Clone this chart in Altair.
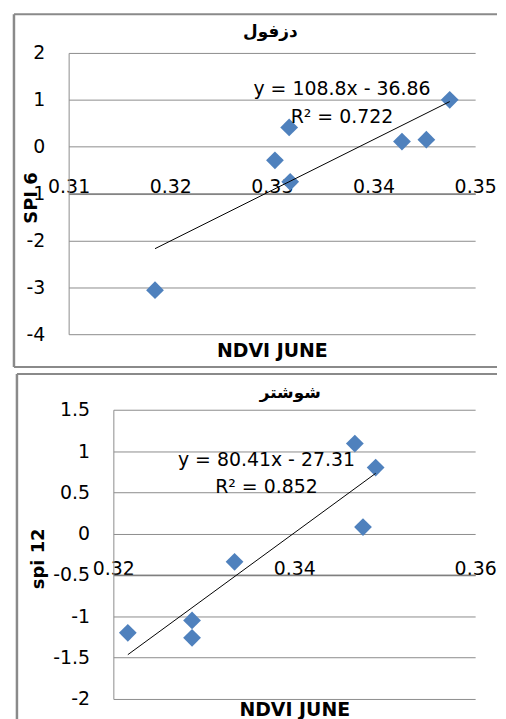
import altair as alt
import pandas as pd

# ---- data ----
dez_ndvi = [0.3185, 0.3303, 0.3317, 0.3318, 0.3428, 0.3452, 0.3475]
dez_spi6 = [-3.06, -0.29, 0.41, -0.75, 0.11, 0.15, 1.00]

shu_ndvi = [0.3216, 0.3287, 0.3287, 0.3334, 0.3467, 0.3476, 0.3490]
shu_spi12 = [-1.20, -1.05, -1.26, -0.34, 1.09, 0.08, 0.80]

titles = ["دزفول", "شوشتر"]
y_titles = ["SPI 6", "spi 12"]
x_title = "NDVI JUNE"
dez_eq = ["y = 108.8x - 36.86", "R² = 0.722"]
shu_eq = ["y = 80.41x - 27.31", "R² = 0.852"]
dez_xticks = [0.31, 0.32, 0.33, 0.34, 0.35]
dez_yticks = [2, 1, 0, -1, -2, -3, -4]
shu_xticks = [0.32, 0.34, 0.36]
shu_yticks = [1.5, 1, 0.5, 0, -0.5, -1, -1.5, -2]
dez_cross = -1
shu_cross = -0.5

FONT = "DejaVu Sans"
GRID = "#8c8c8c"
FRAME = "#8a8a8a"
BLUE = "#4F81BD"
W = 409  # common view width of both panels


def panel(xs, ys, xticks, yticks, xcross, title, ytitle, eq, H, x0,
          frame, eqpos, ytitle_x, xtitle_y, title_pos, bottom_line):
    df = pd.DataFrame({"x": xs, "y": ys})
    one = pd.DataFrame({"a": [0]})
    ydom = [min(yticks), max(yticks)]
    cross_px = (ydom[1] - xcross) / (ydom[1] - ydom[0]) * H
    xscale = alt.Scale(domain=[min(xticks), max(xticks)], nice=False,
                       zero=False, range=[x0, W])
    yscale = alt.Scale(domain=ydom, nice=False, zero=False)

    xaxis = alt.Axis(
        values=xticks, title=x_title, orient="bottom", offset=-(H - cross_px),
        grid=False, ticks=False, tickSize=0, labelPadding=-1,
        labelBaseline="alphabetic", labelFont=FONT, labelFontSize=19,
        labelColor="black", labelExpr="'' + datum.value", labelFlush=False,
        labelOverlap=False, domainColor="#7f7f7f", domainWidth=1.5,
        titleFont=FONT, titleFontSize=19, titleFontWeight="bold",
        titleColor="black", titleY=xtitle_y - cross_px, titleBaseline="middle",
    )
    yaxis = alt.Axis(
        values=yticks, title=ytitle, grid=True, gridColor=GRID, gridWidth=1,
        ticks=False, tickSize=0, labelPadding=24, labelFont=FONT,
        labelFontSize=19, labelColor="black", labelExpr="'' + datum.value",
        labelOverlap=False, labelFlush=False, domainColor=GRID, domainWidth=1,
        titleFont=FONT, titleFontSize=18, titleFontWeight="bold",
        titleColor="black", titleX=ytitle_x, titleY=H / 2 + 4,
        titleBaseline="middle", titleAlign="center", titleAngle=270,
        offset=-x0,
    )

    fx1, fx2, fy1, fy2 = frame
    frame_layers = [
        alt.Chart(one).mark_rule(color=FRAME, strokeWidth=2).encode(
            x=alt.value(fx1), x2=alt.value(fx2), y=alt.value(fy1)),
        alt.Chart(one).mark_rule(color=FRAME, strokeWidth=2.5).encode(
            x=alt.value(fx1), y=alt.value(fy1), y2=alt.value(fy2)),
    ]
    if bottom_line:
        frame_layers.append(
            alt.Chart(one).mark_rule(color=FRAME, strokeWidth=2).encode(
                x=alt.value(fx1), x2=alt.value(fx2), y=alt.value(fy2)))

    pts = alt.Chart(df).mark_point(
        shape="diamond", filled=True, size=320, color=BLUE, opacity=1
    ).encode(
        x=alt.X("x:Q", scale=xscale, axis=xaxis),
        y=alt.Y("y:Q", scale=yscale, axis=yaxis),
    )

    trend = alt.Chart(df).transform_regression("x", "y").mark_line(
        color="black", strokeWidth=1
    ).encode(x="x:Q", y="y:Q")

    texts = []
    for i, t in enumerate(eq):
        texts.append(
            alt.Chart(one).mark_text(
                font=FONT, fontSize=19, color="black", align="center",
                baseline="middle"
            ).encode(
                x=alt.value(eqpos[0]), y=alt.value(eqpos[1] + i * eqpos[2]),
                text=alt.value(t),
            )
        )

    ttl = alt.Chart(one).mark_text(
        font=FONT, fontSize=17, fontWeight="bold", color="black",
        align="center", baseline="middle"
    ).encode(x=alt.value(title_pos[0]), y=alt.value(title_pos[1]),
             text=alt.value(title))

    return alt.layer(*frame_layers, pts, trend, *texts, ttl).properties(
        width=W, height=H,
    )


top = panel(dez_ndvi, dez_spi6, dez_xticks, dez_yticks, dez_cross,
            titles[0], y_titles[0], dez_eq, 283, 0,
            frame=(-55, 431, -39, 316), eqpos=(275, 36, 28),
            ytitle_x=-37, xtitle_y=299, title_pos=(203, -21),
            bottom_line=True)

bottom = panel(shu_ndvi, shu_spi12, shu_xticks, shu_yticks, shu_cross,
               titles[1], y_titles[1], shu_eq, 291, 45,
               frame=(-52, 431, -36, 315), eqpos=(199, 51, 27),
               ytitle_x=-75, xtitle_y=302, title_pos=(223, -17),
               bottom_line=False)

chart = alt.vconcat(top, bottom, spacing=3).properties(
    padding={"left": 4, "top": 2, "right": 0, "bottom": 0},
    background="white",
).configure_view(strokeOpacity=0)

chart.save("out.html", embed_options={"renderer": "svg", "actions": False})
